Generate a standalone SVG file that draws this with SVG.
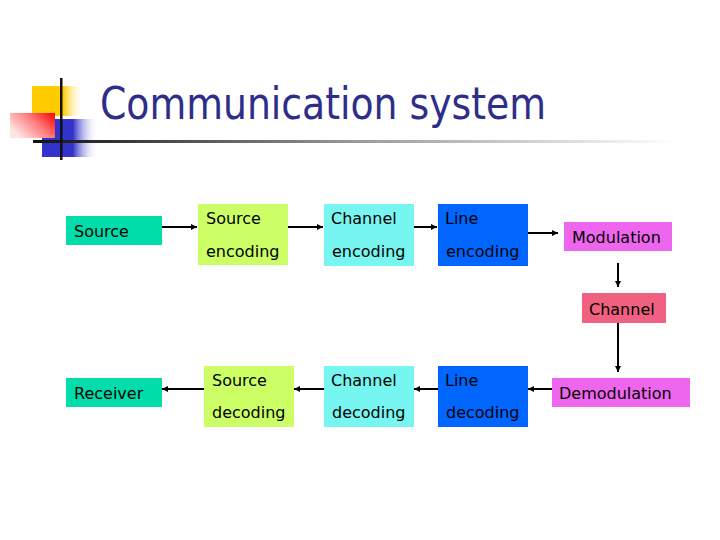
<svg xmlns="http://www.w3.org/2000/svg" width="720" height="540" viewBox="0 0 720 540">
  <defs>
    <linearGradient id="gYellow" x1="0" y1="0" x2="1" y2="0">
      <stop offset="0" stop-color="#FFCC00"/>
      <stop offset="0.6" stop-color="#FFCC00"/>
      <stop offset="1" stop-color="#FFFFFF" stop-opacity="0"/>
    </linearGradient>
    <linearGradient id="gBlue" x1="0" y1="0" x2="1" y2="0">
      <stop offset="0" stop-color="#3333CC"/>
      <stop offset="0.55" stop-color="#3333CC"/>
      <stop offset="1" stop-color="#FFFFFF" stop-opacity="0"/>
    </linearGradient>
    <linearGradient id="gRed" x1="0" y1="0.6" x2="1" y2="0">
      <stop offset="0" stop-color="#FFE4E4"/>
      <stop offset="0.5" stop-color="#FF8080"/>
      <stop offset="1" stop-color="#FF0000"/>
    </linearGradient>
    <linearGradient id="gLine" x1="0" y1="0" x2="1" y2="0">
      <stop offset="0" stop-color="#111111"/>
      <stop offset="0.5" stop-color="#999999"/>
      <stop offset="1" stop-color="#FFFFFF"/>
    </linearGradient>
    <marker id="arr" viewBox="0 0 10 10" refX="10" refY="5" markerWidth="6" markerHeight="6" markerUnits="userSpaceOnUse" orient="auto">
      <path d="M0,0 L10,5 L0,10 z" fill="#000"/>
    </marker>
    <style>
      .t { font-family: "DejaVu Sans", "Liberation Sans", sans-serif; font-size: 16px; fill: #000; }
      .c { stroke: #000; stroke-width: 2; fill: none; marker-end: url(#arr); }
    </style>
  </defs>
  <rect width="720" height="540" fill="#FFFFFF"/>

  <g id="decoration">
    <rect x="32" y="86" width="52" height="30" fill="url(#gYellow)"/>
    <rect x="42" y="119" width="56" height="38" fill="url(#gBlue)"/>
    <rect x="10" y="113" width="45" height="25" fill="url(#gRed)"/>
    <rect x="33" y="140" width="644" height="3" fill="url(#gLine)"/>
    <rect x="60" y="78" width="2.5" height="82" fill="#111"/>
  </g>

  <g id="title">
    <text x="100" y="119" font-family="'DejaVu Sans', 'Liberation Sans', sans-serif" font-size="44" fill="#2E2E8A" textLength="446" lengthAdjust="spacingAndGlyphs">Communication system</text>
  </g>

  <g id="connectors">
    <line class="c" x1="162" y1="227" x2="197" y2="227"/>
    <line class="c" x1="288" y1="227" x2="323" y2="227"/>
    <line class="c" x1="414" y1="227" x2="437" y2="227"/>
    <line class="c" x1="528" y1="233" x2="558" y2="233"/>
    <line class="c" x1="618" y1="263" x2="618" y2="287"/>
    <line class="c" x1="618" y1="323" x2="618" y2="372"/>
    <line class="c" x1="552" y1="389" x2="528" y2="389"/>
    <line class="c" x1="438" y1="389" x2="414" y2="389"/>
    <line class="c" x1="324" y1="389" x2="294" y2="389"/>
    <line class="c" x1="204" y1="389" x2="162" y2="389"/>
  </g>

  <g id="source">
    <rect x="66" y="216" width="96" height="29" fill="#00DDAA"/>
    <text class="t" x="74" y="237">Source</text>
  </g>
  <g id="source-encoding">
    <rect x="198" y="204" width="90" height="61" fill="#CCFF66"/>
    <text class="t" x="206" y="224">Source</text>
    <text class="t" x="206" y="257">encoding</text>
  </g>
  <g id="channel-encoding">
    <rect x="324" y="204" width="90" height="62" fill="#77F5F0"/>
    <text class="t" x="331" y="224">Channel</text>
    <text class="t" x="332" y="257">encoding</text>
  </g>
  <g id="line-encoding">
    <rect x="438" y="204" width="90" height="62" fill="#0066FF"/>
    <text class="t" x="445" y="224">Line</text>
    <text class="t" x="446" y="257">encoding</text>
  </g>
  <g id="modulation">
    <rect x="564" y="222" width="108" height="29" fill="#EE66EE"/>
    <text class="t" x="572" y="243">Modulation</text>
  </g>
  <g id="channel">
    <rect x="582" y="293" width="84" height="30" fill="#F06080"/>
    <text class="t" x="589" y="315">Channel</text>
  </g>
  <g id="demodulation">
    <rect x="552" y="378" width="138" height="29" fill="#EE66EE"/>
    <text class="t" x="559" y="399">Demodulation</text>
  </g>
  <g id="line-decoding">
    <rect x="438" y="366" width="90" height="61" fill="#0066FF"/>
    <text class="t" x="445" y="386">Line</text>
    <text class="t" x="446" y="418">decoding</text>
  </g>
  <g id="channel-decoding">
    <rect x="324" y="366" width="90" height="61" fill="#77F5F0"/>
    <text class="t" x="331" y="386">Channel</text>
    <text class="t" x="332" y="418">decoding</text>
  </g>
  <g id="source-decoding">
    <rect x="204" y="366" width="90" height="61" fill="#CCFF66"/>
    <text class="t" x="212" y="386">Source</text>
    <text class="t" x="212" y="418">decoding</text>
  </g>
  <g id="receiver">
    <rect x="66" y="378" width="96" height="29" fill="#00DDAA"/>
    <text class="t" x="74" y="399">Receiver</text>
  </g>
</svg>
